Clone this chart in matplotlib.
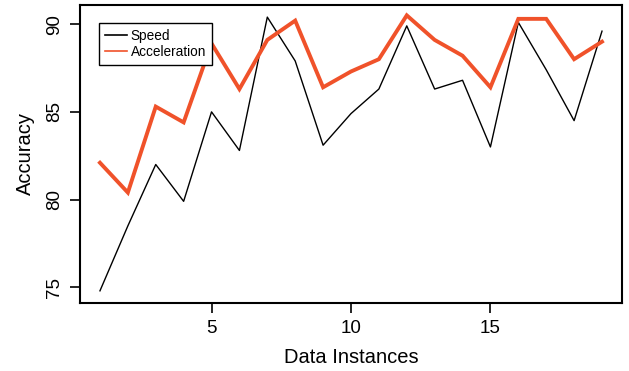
import numpy as np
import matplotlib
matplotlib.use("Agg")
import matplotlib.pyplot as plt

plt.rcParams['font.family'] = ['Liberation Sans', 'DejaVu Sans']

instances = np.arange(1, 20)
speed = [74.8, 78.5, 82.0, 79.9, 85.0, 82.8, 90.4, 87.9, 83.1, 84.9,
         86.3, 89.9, 86.3, 86.8, 83.0, 90.1, 87.4, 84.5, 89.6]
accel = [82.1, 80.4, 85.3, 84.4, 88.9, 86.3, 89.1, 90.2, 86.4, 87.3,
         88.0, 90.5, 89.1, 88.2, 86.4, 90.3, 90.3, 88.0, 89.0]

fig = plt.figure(figsize=(6.29, 3.71), dpi=100)
ax = fig.add_axes([0.127, 0.183, 0.862, 0.804])

ax.plot(instances, speed, color='black', lw=1.0, label='Speed')
ax.plot(instances, accel, color='#F0522A', lw=2.8, label='Acceleration',
        solid_joinstyle='miter')

ax.set_xlim(0.28, 19.72)
ax.set_ylim(74.1, 91.1)
ax.set_xticks([5, 10, 15])
ax.set_yticks([75, 80, 85, 90])
ax.tick_params(direction='out', length=7, width=1.2, labelsize=13.5, pad=5)
for lab in ax.get_yticklabels():
    lab.set_rotation(90)
    lab.set_va('center')
for s in ax.spines.values():
    s.set_linewidth(1.5)

ax.set_xlabel('Data Instances', fontsize=14.5, labelpad=8)
ax.set_ylabel('Accuracy', fontsize=14.5, labelpad=8)

leg = ax.legend(loc='upper left', bbox_to_anchor=(0.035, 0.94), fontsize=9.8,
                frameon=True, fancybox=False, edgecolor='black', framealpha=1,
                borderpad=0.45, handlelength=1.6, handletextpad=0.3,
                labelspacing=0.15, borderaxespad=0)
leg.get_frame().set_linewidth(1.0)
for h in leg.get_lines():
    h.set_linewidth(1.2)

fig.savefig('out.png', dpi=100)
